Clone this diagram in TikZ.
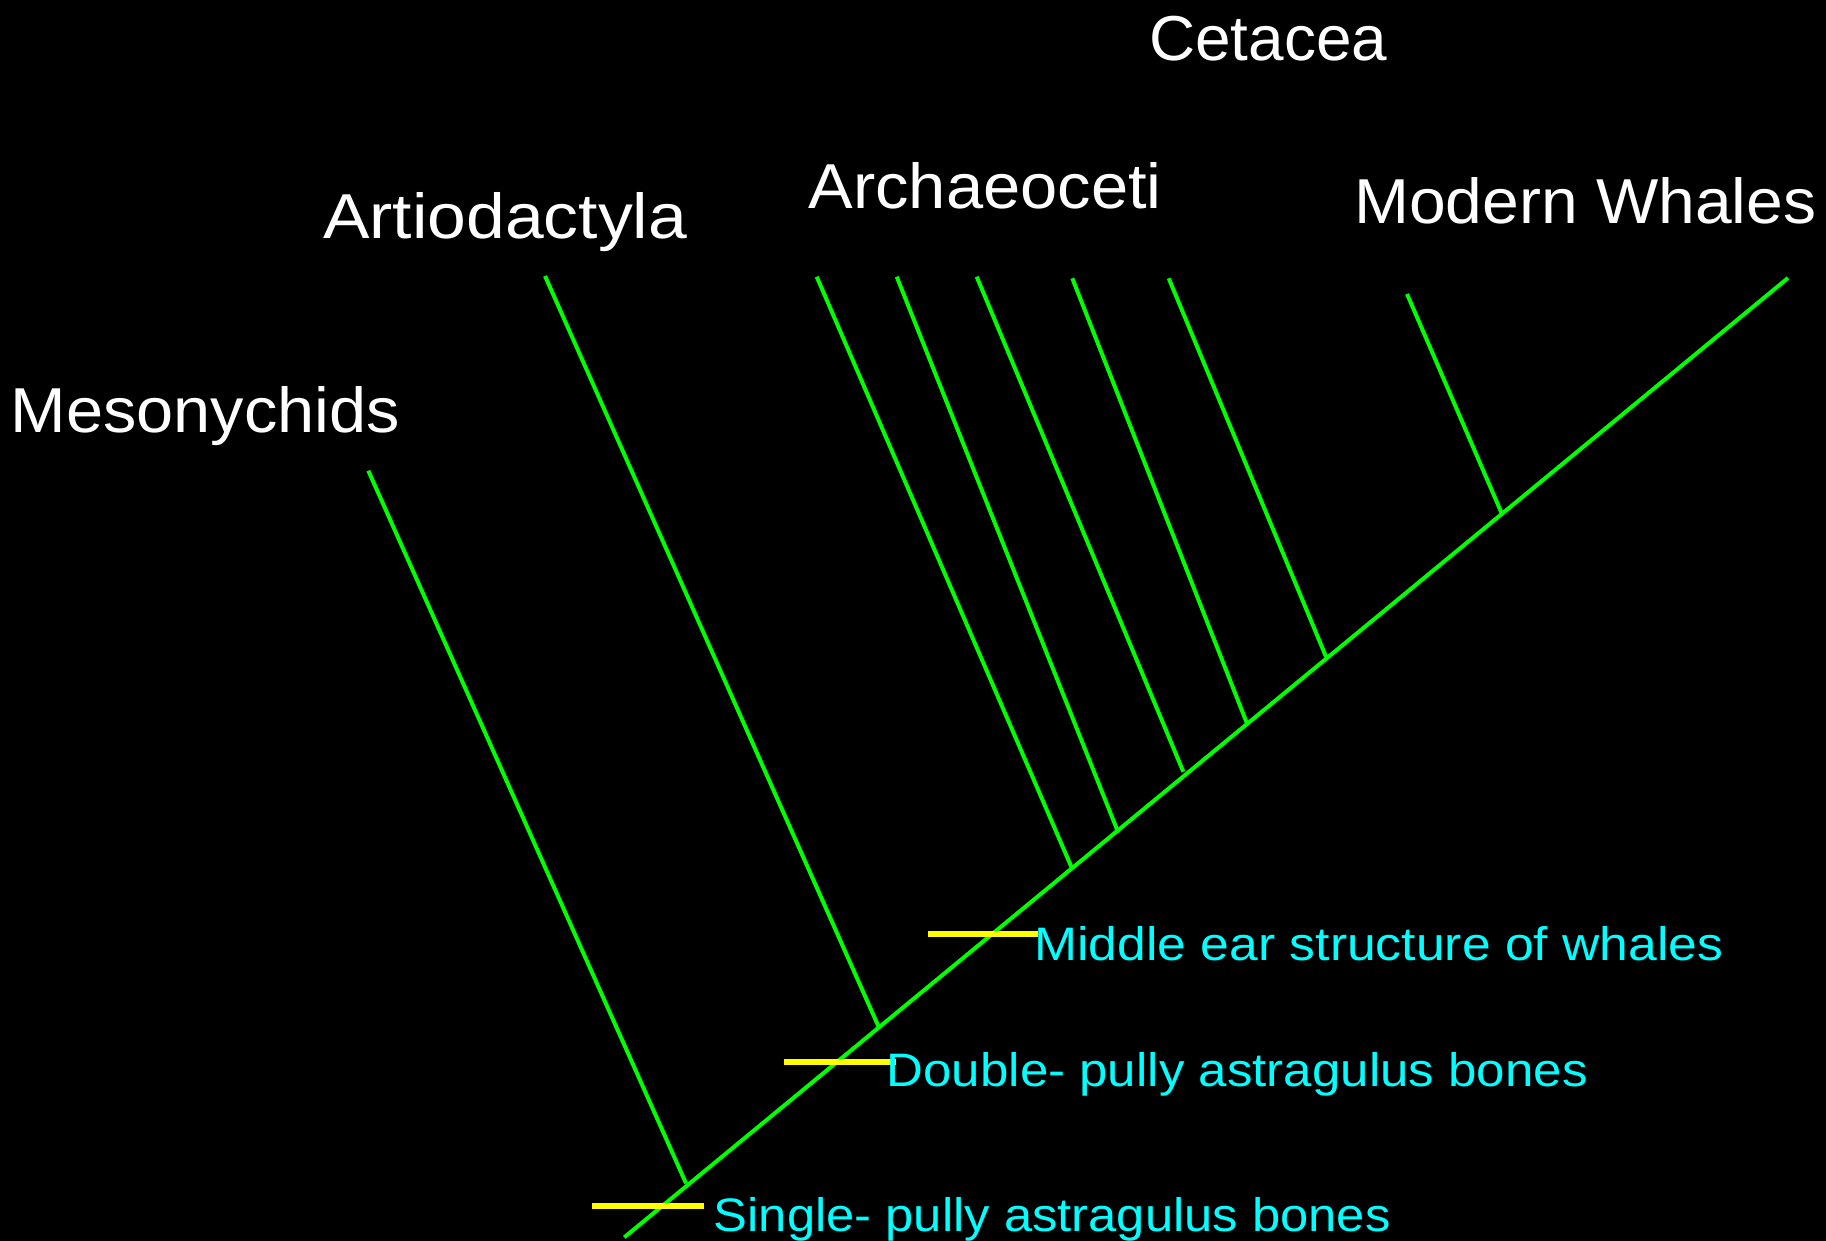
\documentclass[tikz,border=0pt]{standalone}
\usepackage{fontspec}
\setmainfont{Liberation Sans}
\definecolor{brgreen}{RGB}{0,255,0}
\definecolor{trayellow}{RGB}{255,255,0}
\definecolor{lblcyan}{RGB}{0,255,255}
\begin{document}
\begin{tikzpicture}[x=1pt,y=-1pt,
  branch/.style={draw=brgreen,line width=4pt},
  trait/.style={draw=trayellow,line width=6pt},
  taxon/.style={anchor=base west,inner sep=0pt,text=white,font=\fontsize{63.5}{70}\selectfont},
  charlbl/.style={anchor=base west,inner sep=0pt,text=lblcyan,font=\fontsize{47}{52}\selectfont}]
\fill[black] (0,0) rectangle (1826,1241);
\useasboundingbox (0,0) rectangle (1826,1241);
% trunk
\coordinate (root) at (624.3,1237.3);
\coordinate (tip) at (1788,278);
% branch tops and bases
\coordinate (mT) at (368.3,470.7);   \coordinate (mB) at (686,1183.3);
\coordinate (aT) at (545,276);       \coordinate (aB) at (879.2,1028);
\coordinate (c1T) at (816.7,276.7);  \coordinate (c1B) at (1071.7,867.7);
\coordinate (c2T) at (896.7,276.7);  \coordinate (c2B) at (1118.3,832.7);
\coordinate (c3T) at (976.7,276.7);  \coordinate (c3B) at (1183.3,771.7);
\coordinate (c4T) at (1072.3,278.3); \coordinate (c4B) at (1246.7,722.7);
\coordinate (c5T) at (1168.7,278.3); \coordinate (c5B) at (1326,656.7);
\coordinate (mwT) at (1407,294);     \coordinate (mwB) at (1502,514);
% trait marks
\coordinate (s1) at (592,1205.7);   \coordinate (s2) at (704,1205.7);
\coordinate (d1) at (783.7,1061.7); \coordinate (d2) at (896,1061.7);
\coordinate (e1) at (928,933.7);    \coordinate (e2) at (1037.8,933.7);

\draw[branch] (root) -- (tip);
\draw[branch] (mT) -- (mB);
\draw[branch] (aT) -- (aB);
\draw[branch] (c1T) -- (c1B);
\draw[branch] (c2T) -- (c2B);
\draw[branch] (c3T) -- (c3B);
\draw[branch] (c4T) -- (c4B);
\draw[branch] (c5T) -- (c5B);
\draw[branch] (mwT) -- (mwB);

\draw[trait] (s1) -- (s2);
\draw[trait] (d1) -- (d2);
\draw[trait] (e1) -- (e2);

% labels
\node[taxon] (cet) at (1149,61) {\resizebox{238pt}{\height}{Cetacea}};
\node[taxon] (art) at (323,239) {\resizebox{364pt}{\height}{Artiodactyla}};
\node[taxon] (arc) at (808.5,208.3) {\resizebox{353pt}{\height}{Archaeoceti}};
\node[taxon] (mod) at (1354,224) {\resizebox{462pt}{\height}{Modern Whales}};
\node[taxon] (mes) at (10.5,432.3) {\resizebox{389pt}{\height}{Mesonychids}};

\node[charlbl] (sgl) at (713.5,1231.7) {\resizebox{677pt}{\height}{Single- pully astragulus bones}};
\node[charlbl] (dbl) at (886.5,1086.7) {\resizebox{701pt}{\height}{Double- pully astragulus bones}};
\node[charlbl] (mid) at (1034.2,960) {\resizebox{689pt}{\height}{Middle ear structure of whales}};
\end{tikzpicture}
\end{document}
